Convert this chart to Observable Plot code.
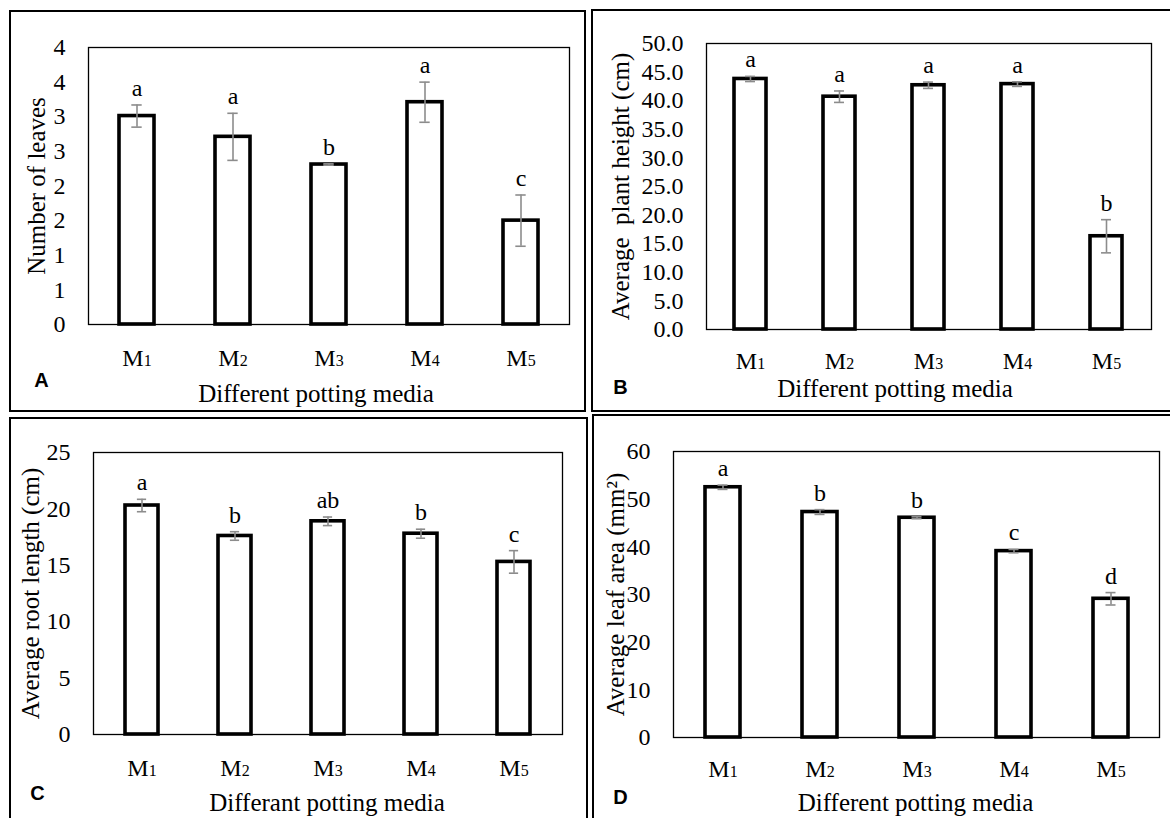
<!DOCTYPE html>
<html><head><meta charset="utf-8">
<script src="https://cdn.jsdelivr.net/npm/d3@7"></script>
<script src="https://cdn.jsdelivr.net/npm/@observablehq/plot@0.6"></script>
<style>
html,body{margin:0;padding:0;background:#fff;}
body{width:1170px;height:818px;overflow:hidden;position:relative;}
.border{position:absolute;border:2px solid #000;box-sizing:border-box;z-index:2;pointer-events:none;}
.holder{position:absolute;z-index:1;}
.holder svg{display:block;}
.holder g[aria-label="y-axis tick label"], .holder g[aria-label="y-axis tick label"] text,
.holder g[aria-label="x-axis tick label"], .holder g[aria-label="x-axis tick label"] text {
  font-family: "Liberation Serif", "Times New Roman", serif !important;
  font-variant-numeric: normal !important;
}
</style></head><body>
<script>
// Categories
const media = ["M1", "M2", "M3", "M4", "M5"];

// A: Number of leaves
const leavesMean = [3.01, 2.71, 2.31, 3.21, 1.50];
const leavesSE = [0.16, 0.34, 0.01, 0.29, 0.37];
const leavesLetters = ["a", "a", "b", "a", "c"];
const leavesTicks = [0, 0.5, 1, 1.5, 2, 2.5, 3, 3.5, 4];

// B: Average plant height (cm)
const heightMean = [43.8, 40.7, 42.7, 42.9, 16.3];
const heightSE = [0.45, 1.0, 0.55, 0.4, 2.9];
const heightLetters = ["a", "a", "a", "a", "b"];
const heightTicks = [0, 5, 10, 15, 20, 25, 30, 35, 40, 45, 50];

// C: Average root length (cm)
const rootMean = [20.3, 17.6, 18.9, 17.8, 15.3];
const rootSE = [0.55, 0.38, 0.38, 0.4, 1.0];
const rootLetters = ["a", "b", "ab", "b", "c"];
const rootTicks = [0, 5, 10, 15, 20, 25];

// D: Average leaf area (mm²)
const areaMean = [52.5, 47.3, 46.1, 39.1, 29.1];
const areaSE = [0.45, 0.5, 0.2, 0.35, 1.3];
const areaLetters = ["a", "b", "b", "c", "d"];
const areaTicks = [0, 10, 20, 30, 40, 50, 60];

const SERIF = "Liberation Serif";
const SANS = "Liberation Sans";

function addBorder(l, t, w, h) {
  const d = document.createElement("div");
  d.className = "border";
  Object.assign(d.style, {left: l + "px", top: t + "px", width: w + "px", height: h + "px"});
  document.body.appendChild(d);
}

function panel(cfg) {
  const data = media.map((m, i) => ({m, v: cfg.mean[i], e: cfg.se[i], g: cfg.letters[i]}));
  const pad = 0.64;
  const step = (cfg.width - cfg.mL - cfg.mR) / media.length;
  const bw = step * (1 - pad);
  const capInset = (bw - 10) / 2;
  const chart = Plot.plot({
    width: cfg.width,
    height: cfg.height,
    marginLeft: cfg.mL, marginRight: cfg.mR, marginTop: cfg.mT, marginBottom: cfg.mB,
    style: {fontFamily: SERIF, fontSize: "24px", color: "#000", background: "transparent", overflow: "visible"},
    x: {domain: media, paddingInner: pad, paddingOuter: pad / 2},
    y: {domain: [0, cfg.ticks[cfg.ticks.length - 1]], nice: false},
    marks: [
      Plot.barY(data, {x: "m", y: "v", fill: "white", stroke: "#000", strokeWidth: 3.6}),
      Plot.frame({stroke: "#000", strokeWidth: 1.3}),
      Plot.ruleX(data, {x: "m", y1: d => d.v - d.e, y2: d => d.v + d.e, stroke: "#8c8c8c", strokeWidth: 1.6}),
      Plot.tickY(data, {x: "m", y: d => d.v + d.e, stroke: "#8c8c8c", strokeWidth: 1.6, insetLeft: capInset, insetRight: capInset}),
      Plot.tickY(data, {x: "m", y: d => d.v - d.e, stroke: "#8c8c8c", strokeWidth: 1.6, insetLeft: capInset, insetRight: capInset}),
      Plot.text(data, {x: "m", y: d => d.v + d.e, text: "g", lineAnchor: "bottom", dy: -9, fontSize: 24, fontFamily: SERIF, fill: "#000"}),
      Plot.axisY({ticks: cfg.ticks, tickFormat: cfg.fmt, tickSize: 0, tickPadding: 23, label: null, fontSize: 24, fontFamily: SERIF, fontVariant: "normal"}),
      Plot.axisX({tickSize: 0, tickPadding: cfg.xPad, label: null, fontSize: 24, fontFamily: SERIF, fontVariant: "normal"}),
      Plot.text([cfg.yTitle], {frameAnchor: "left", rotate: -90, dx: cfg.yTitleDx, textAnchor: "middle", lineAnchor: "middle", fontSize: 25, fontFamily: SERIF, fill: "#000"}),
      Plot.text([cfg.xTitle], {frameAnchor: "bottom", dx: cfg.xTitleDx, dy: cfg.xTitleDy, textAnchor: "middle", lineAnchor: "middle", fontSize: 25, fontFamily: SERIF, fill: "#000"}),
      Plot.text([cfg.tag], {frameAnchor: "bottom-left", dx: cfg.tagDx, dy: cfg.tagDy, textAnchor: "middle", lineAnchor: "middle", fontSize: 20, fontWeight: "bold", fontFamily: SANS, fill: "#000"})
    ]
  });
  // subscript-style small digit in M labels
  d3.select(chart).selectAll('g[aria-label="x-axis tick label"] text').each(function () {
    const s = this.textContent;
    const sel = d3.select(this);
    sel.text(null);
    sel.append("tspan").text(s.slice(0, 1));
    sel.append("tspan").attr("font-size", 16).text(s.slice(1));
  });
  const holder = document.createElement("div");
  holder.className = "holder";
  holder.style.left = cfg.left + "px";
  holder.style.top = cfg.top + "px";
  holder.appendChild(chart);
  document.body.appendChild(holder);
}

const roundFmt = d => String(Math.round(d));
const oneDec = d3.format(".1f");

panel({left: 11, top: 12, width: 574, height: 398, mL: 77, mR: 16, mT: 35, mB: 86,
  mean: leavesMean, se: leavesSE, letters: leavesLetters, ticks: leavesTicks, fmt: roundFmt,
  xPad: 24, yTitle: "Number of leaves", yTitleDx: -52, xTitle: "Different potting media", xTitleDx: -13, xTitleDy: 69,
  tag: "A", tagDx: -47, tagDy: 56});
panel({left: 594, top: 12, width: 576, height: 398, mL: 112, mR: 19, mT: 31, mB: 81,
  mean: heightMean, se: heightSE, letters: heightLetters, ticks: heightTicks, fmt: oneDec,
  xPad: 22, yTitle: "Average  plant height (cm)", yTitleDx: -86, xTitle: "Different potting media", xTitleDx: -34, xTitleDy: 59,
  tag: "B", tagDx: -86, tagDy: 58});
panel({left: 11, top: 420, width: 575, height: 398, mL: 82, mR: 24, mT: 32, mB: 84,
  mean: rootMean, se: rootSE, letters: rootLetters, ticks: rootTicks, fmt: roundFmt,
  xPad: 24, yTitle: "Average root length (cm)", yTitleDx: -63, xTitle: "Differant potting media", xTitleDx: -1, xTitleDy: 68,
  tag: "C", tagDx: -56, tagDy: 59});
panel({left: 595, top: 417, width: 575, height: 401, mL: 78, mR: 11, mT: 34, mB: 81,
  mean: areaMean, se: areaSE, letters: areaLetters, ticks: areaTicks, fmt: roundFmt,
  xPad: 22, yTitle: "Average leaf area (mm²)", yTitleDx: -58, xTitle: "Different potting media", xTitleDx: -1, xTitleDy: 65,
  tag: "D", tagDx: -53, tagDy: 60});

addBorder(9, 10, 577, 402);
addBorder(591, 9, 620, 403);
addBorder(9, 417, 579, 450);
addBorder(592, 414, 620, 450);
</script>
</body></html>
